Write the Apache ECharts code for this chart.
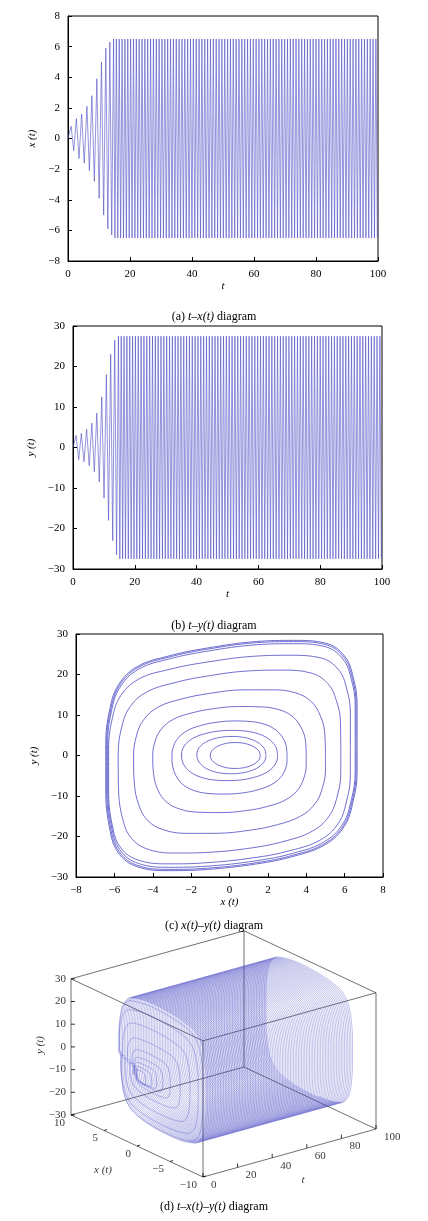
<!DOCTYPE html>
<html><head><meta charset="utf-8">
<script src="https://cdn.jsdelivr.net/npm/echarts@6/dist/echarts.min.js"></script>
<style>html,body{margin:0;padding:0;background:#fff}#c{width:428px;height:1221px}</style>
</head><body><div id="c"></div>
<script>
var growthT = [1, 2.7, 4.4, 6.1, 7.7, 9.3, 10.8, 12.2, 13.5, 14.7];
var growthX = [0.8, 1.3, 1.6, 2.1, 2.8, 3.9, 5.0, 5.9, 6.3, 6.5];
var growthY = [3, 3.5, 4.5, 6, 8.5, 12.5, 18, 23, 26.5, 27.5];
// saturated oscillation
var steadyStart = 15.6, steadyPeriod = 0.92, steadyEnd = 100;
var xSat = 6.5, ySat = 27.5;
// unit shape of the outer (squarish) loop in the x-y plane
var shapeX = [1,1,0.97,0.9,0.75,0.5,0.2,-0.2,-0.5,-0.75,-0.9,-0.97,-1,-1,-0.97,-0.9,-0.75,-0.5,-0.2,0.2,0.5,0.75,0.9,0.97,1,1];
var shapeY = [0,0.35,0.6,0.8,0.93,0.98,1,0.98,0.94,0.87,0.72,0.5,0.2,-0.2,-0.55,-0.78,-0.92,-0.98,-1,-0.99,-0.95,-0.87,-0.72,-0.5,-0.25,0];
// unit shape of the inner (elliptic) loops
var ellX = [1,0.97,0.87,0.71,0.5,0.26,0,-0.26,-0.5,-0.71,-0.87,-0.97,-1,-0.97,-0.87,-0.71,-0.5,-0.26,0,0.26,0.5,0.71,0.87,0.97,1,1];
var ellY = [0,0.26,0.5,0.71,0.87,0.97,1,0.97,0.87,0.71,0.5,0.26,0,-0.26,-0.5,-0.71,-0.87,-0.97,-1,-0.97,-0.87,-0.71,-0.5,-0.26,0,0];
// nested loops in panel c: [ax, ay, cx, cy, squareness, shear]
var loopsC = [[1.3,3.2,0.3,0,0,0],[1.8,4.6,0.1,0.1,0.1,0],[2.5,6.2,0,0,0.2,0.02],[3.0,9,0,-0.5,0.4,0.04],[4.0,13,0,-1,0.6,0.06],[5.0,17.5,0,-1.5,0.75,0.08],[5.8,22,0,-1.5,0.9,0.1],[6.3,25,0,-1,1,0.1],[6.45,26.8,0.1,0,1,0.1],[6.5,27.3,0.1,0,1,0.1],[6.55,27.6,0.1,0,1,0.1]];
var xTicks3 = [10,5,0,-5,-10], yTicks3 = [30,20,10,0,-10,-20,-30], tTicks3 = [0,20,40,60,80,100];

var col = '#4b4bc4';
var F = 'Liberation Serif';
var cycT=[], cycX=[], cycY=[], cycP=[];
for (var i=0;i<growthT.length;i++){cycT.push(growthT[i]);cycX.push(growthX[i]);cycY.push(growthY[i]);cycP.push(i<growthT.length-1?growthT[i+1]-growthT[i]:steadyStart-growthT[i]);}
for (var t=steadyStart;t<steadyEnd;t+=steadyPeriod){cycT.push(t);cycX.push(xSat);cycY.push(ySat);cycP.push(steadyPeriod);}
var dx=[[0,0]], dy=[[0,0]];
for (var k=0;k<cycT.length;k++){
  dx.push([cycT[k],cycX[k]]); dx.push([cycT[k]+cycP[k]/2,-cycX[k]]);
  dy.push([cycT[k],cycY[k]]); dy.push([cycT[k]+cycP[k]/2,-cycY[k]]);
}
var dc=[];
loopsC.forEach(function(L){var s=L[4];for(var i=0;i<shapeX.length;i++){
  var ux=s*shapeX[i]+(1-s)*ellX[i], uy=s*shapeY[i]+(1-s)*ellY[i];
  dc.push([L[2]+L[0]*ux,L[3]+L[1]*(uy+L[5]*ux)]);}dc.push(null);});
// 3D projection
function P(t,x,y){return [71+(10-x)*6.6+t*1.73, 1115+(10-x)*3.1-t*0.48-(y+30)*2.27];}
var d3=[];
for (var k=0;k<cycT.length;k++){
  for (var i=0;i<shapeX.length;i++){
    var tt=cycT[k]+cycP[k]*i/(shapeX.length-1);
    if(tt>100)break;
    d3.push(P(tt,cycX[k]*shapeX[i],cycY[k]*shapeY[i]));
  }
}
var box=[];
var cs=[[0,10],[0,-10],[100,-10],[100,10]];
for (var i=0;i<4;i++){var a=cs[i],b=cs[(i+1)%4];
  box.push([P(a[0],a[1],-30),P(b[0],b[1],-30)]);box.push([P(a[0],a[1],30),P(b[0],b[1],30)]);box.push([P(a[0],a[1],-30),P(a[0],a[1],30)]);}
var boxData=[];box.forEach(function(s){boxData.push(s[0],s[1],null);});
var tickData=[];
yTicks3.forEach(function(v){var p=P(0,10,v);tickData.push(p,[p[0]+4,p[1]],null);});
xTicks3.forEach(function(v){var p=P(0,v,-30);tickData.push(p,[p[0]+3,p[1]-1],null);});
tTicks3.forEach(function(v){var p=P(v,-10,-30);tickData.push(p,[p[0],p[1]-4],null);});
var lab=[];
yTicks3.forEach(function(v){var p=P(0,10,v);lab.push({value:[p[0]-3,p[1]],name:String(v).replace('-','\u2212'),label:{position:'left'}});});
xTicks3.forEach(function(v){var p=P(0,v,-30);lab.push({value:[p[0]-4,p[1]+8],name:String(v).replace('-','\u2212'),label:{position:'left'}});});
tTicks3.forEach(function(v){var p=P(v,-10,-30);lab.push({value:[p[0]+6,p[1]+8],name:String(v),label:{position:'right'}});});
lab.push({value:[40,1045],name:'y (t)',label:{position:'inside',rotate:90,fontStyle:'italic'}});
lab.push({value:[103,1170],name:'x (t)',label:{position:'inside',fontStyle:'italic'}});
lab.push({value:[303,1180],name:'t',label:{position:'inside',fontStyle:'italic'}});

function mf(v){return String(v).replace('-','\u2212');}
function vax(o){return Object.assign({type:'value',axisLine:{show:true,onZero:false,lineStyle:{color:'#000'}},axisTick:{inside:true,length:4,lineStyle:{color:'#000'}},splitLine:{show:false},axisLabel:{color:'#000',fontFamily:F,fontSize:11,formatter:mf},nameLocation:'middle',nameTextStyle:{color:'#000',fontFamily:F,fontSize:11,fontStyle:'italic'}},o);}
function cap(letter,a,top){
  return {text:'{n|('+letter+') }{i|'+a+'}{n| diagram}',left:'center',top:top,textStyle:{fontWeight:'normal',rich:{n:{fontFamily:F,fontSize:12,fontWeight:'normal',color:'#000'},i:{fontFamily:F,fontSize:12,fontStyle:'italic',fontWeight:'normal',color:'#000'}}}};
}
var gb={show:true,borderColor:'#000',borderWidth:1,backgroundColor:'#fff'};
var opt={animation:false,
title:[cap('a','t–x(t)',306),cap('b','t–y(t)',615),cap('c','x(t)–y(t)',915),cap('d','t–x(t)–y(t)',1196)],
grid:[Object.assign({left:68,width:310,top:16,height:245},gb),Object.assign({left:73,width:309,top:326,height:243},gb),Object.assign({left:76,width:307,top:634,height:243},gb),{left:0,top:0,width:428,height:1221,show:false}],
xAxis:[vax({gridIndex:0,min:0,max:100,interval:20,name:'t',nameGap:16}),vax({gridIndex:1,min:0,max:100,interval:20,name:'t',nameGap:16}),vax({gridIndex:2,min:-8,max:8,interval:2,name:'x (t)',nameGap:16}),{gridIndex:3,type:'value',min:0,max:428,show:false}],
yAxis:[vax({gridIndex:0,min:-8,max:8,interval:2,name:'x (t)',nameGap:24}),vax({gridIndex:1,min:-30,max:30,interval:10,name:'y (t)',nameGap:28}),vax({gridIndex:2,min:-30,max:30,interval:10,name:'y (t)',nameGap:28}),{gridIndex:3,type:'value',min:0,max:1221,inverse:true,show:false}],
series:[
{type:'line',xAxisIndex:0,yAxisIndex:0,data:dx,showSymbol:false,lineStyle:{color:col,width:0.6},silent:true},
{type:'line',xAxisIndex:1,yAxisIndex:1,data:dy,showSymbol:false,lineStyle:{color:col,width:0.6},silent:true},
{type:'line',xAxisIndex:2,yAxisIndex:2,data:dc,showSymbol:false,smooth:0.4,connectNulls:false,lineStyle:{color:col,width:0.8},silent:true},
{type:'line',xAxisIndex:3,yAxisIndex:3,data:boxData,showSymbol:false,lineStyle:{color:'#333',width:0.7},silent:true},
{type:'line',xAxisIndex:3,yAxisIndex:3,data:d3,showSymbol:false,smooth:0.3,lineStyle:{color:col,width:0.4,opacity:0.85},silent:true},
{type:'line',xAxisIndex:3,yAxisIndex:3,data:tickData,showSymbol:false,lineStyle:{color:'#000',width:0.8},silent:true},
{type:'scatter',xAxisIndex:3,yAxisIndex:3,data:lab,symbolSize:0,silent:true,label:{show:true,formatter:'{b}',color:'#000',fontFamily:F,fontSize:11,distance:2}}
]};
echarts.init(document.getElementById('c')).setOption(opt);
</script></body></html>
